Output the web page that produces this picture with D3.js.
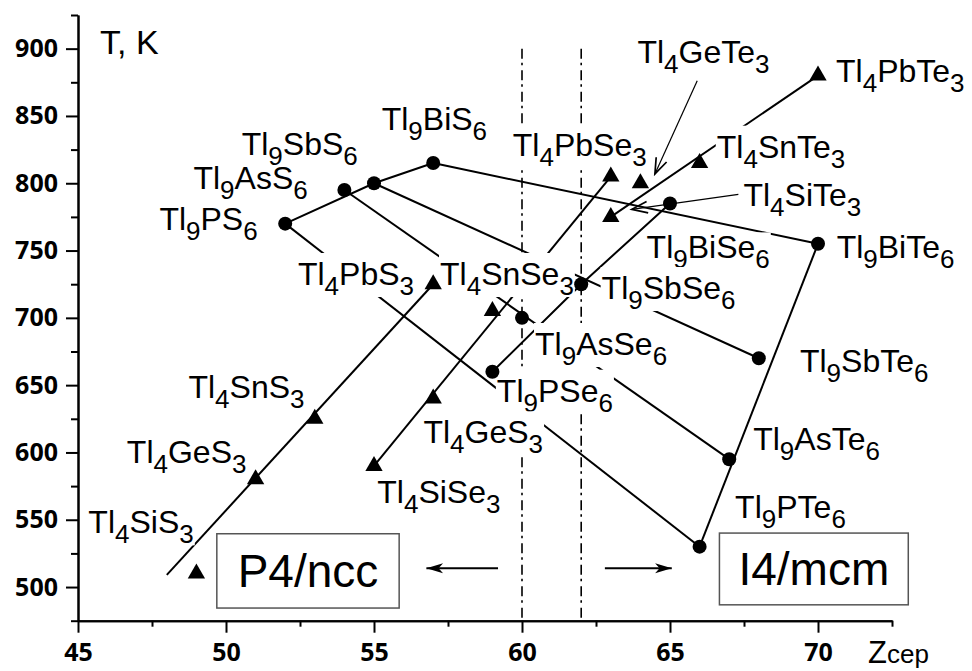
<!DOCTYPE html>
<html>
<head>
<meta charset="utf-8">
<script src="https://cdn.jsdelivr.net/npm/d3@7/dist/d3.min.js"></script>
<style>
    body { margin: 0; background: #fff; }
    svg { display: block; }
    .label, .title, .phase { font-family: "Liberation Sans", Arial, sans-serif; fill: #000; }
    .axis text { font-family: "Open Sans", sans-serif; font-weight: bold; font-size: 25px; fill: #000; }
    .axis path, .axis line { stroke: #000; stroke-width: 2; }
</style>
</head>
<body>
<div id="chart"></div>
<script>
// Tl9BX6 compounds (circles)
const tl9Names = ['Tl9PS6', 'Tl9AsS6', 'Tl9SbS6', 'Tl9BiS6', 'Tl9PSe6', 'Tl9AsSe6', 'Tl9SbSe6', 'Tl9BiSe6', 'Tl9PTe6', 'Tl9AsTe6', 'Tl9SbTe6', 'Tl9BiTe6'];
const tl9Z = [52, 54, 55, 57, 59, 60, 62, 65, 66, 67, 68, 70];
const tl9T = [770, 795, 800, 815, 660, 700, 725, 785, 530, 595, 670, 755];

// Tl4AX3 compounds (triangles)
const tl4Names = ['Tl4SiS3', 'Tl4GeS3', 'Tl4SnS3', 'Tl4PbS3', 'Tl4SiSe3', 'Tl4GeSe3', 'Tl4SnSe3', 'Tl4PbSe3', 'Tl4SiTe3', 'Tl4GeTe3', 'Tl4SnTe3', 'Tl4PbTe3'];
const tl4Z = [49, 51, 53, 57, 55, 57, 59, 63, 63, 64, 66, 70];
const tl4T = [510, 580, 625, 725, 590, 640, 705, 805, 775, 800, 815, 880];

// Lines joining compounds (by name)
const tl9Lines = [
    ['Tl9PS6', 'Tl9SbS6', 'Tl9BiS6'],
    ['Tl9PSe6', 'Tl9SbSe6', 'Tl9BiSe6'],
    ['Tl9PTe6', 'Tl9BiTe6'],
    ['Tl9PS6', 'Tl9PTe6'],
    ['Tl9AsS6', 'Tl9AsTe6'],
    ['Tl9SbS6', 'Tl9SbTe6'],
    ['Tl9BiS6', 'Tl9BiTe6']
];
const tl4Lines = [
    ['Tl4PbSe3', 'Tl4SiSe3'],
    ['Tl4PbTe3', 'Tl4SiTe3']
];
// Sulfide trend line (Z, T)
const sulfideLine = [[48, 509], [57, 725]];

// Phase boundaries (Z)
const boundaryZ = [60, 62];
const boundaryTop = 900;

// Axis ticks
const xMajor = [45, 50, 55, 60, 65, 70];
const xMinor = [47.5, 52.5, 57.5, 62.5, 67.5, 72.5];
const yMajor = [500, 550, 600, 650, 700, 750, 800, 850, 900];
const yMinor = [475, 525, 575, 625, 675, 725, 775, 825, 875, 925];

// Compound labels: text (_n = subscript), Z, T of baseline start
const labels = [
    ['Tl_9PS_6', 47.75, 765.3],
    ['Tl_9AsS_6', 48.90, 795.5],
    ['Tl_9SbS_6', 50.53, 821.0],
    ['Tl_9BiS_6', 55.26, 839.6],
    ['Tl_4PbSe_3', 59.69, 820.2],
    ['Tl_4GeTe_3', 63.90, 889.1],
    ['Tl_4PbTe_3', 70.61, 875.4],
    ['Tl_4SnTe_3', 66.58, 819.0],
    ['Tl_4SiTe_3', 67.48, 783.1],
    ['Tl_9BiSe_6', 64.21, 744.2],
    ['Tl_9BiTe_6', 70.63, 744.2],
    ['Tl_9SbSe_6', 62.69, 714.0],
    ['Tl_4PbS_3', 52.43, 724.4],
    ['Tl_4SnSe_3', 57.23, 724.4],
    ['Tl_9AsSe_6', 60.44, 672.4],
    ['Tl_9SbTe_6', 69.39, 660.0],
    ['Tl_4SnS_3', 48.73, 640.2],
    ['Tl_9PSe_6', 59.15, 637.7],
    ['Tl_4GeS_3', 46.65, 591.9],
    ['Tl_4GeS_3', 56.67, 606.8],
    ['Tl_9AsTe_6', 67.81, 601.8],
    ['Tl_4SiSe_3', 55.11, 562.2],
    ['Tl_4SiS_3', 45.35, 539.9],
    ['Tl_9PTe_6', 67.20, 551.1]
];

// Thin pointer arrows from labels
const pointers = [
    [[65.92, 876.2], [64.49, 806.9]],
    [[67.31, 791.8], [63.71, 780.6]]
];

// Phase boxes and direction arrows
const phaseNames = ['P4/ncc', 'I4/mcm'];
const phaseBoxZ = [[49.69, 55.85], [66.67, 73.05]];
const phaseBoxT = [[484.4, 539.6], [486.8, 540.1]];
const phaseArrows = [[[59.19, 514], [56.77, 514]], [[62.8, 514], [65.06, 514]]];

const width = 972;
const height = 671;

const svg = d3.select('#chart')
    .append('svg')
    .attr('width', width)
    .attr('height', height);

const defs = svg.append('defs');
defs.append('marker')
    .attr('id', 'open-arrow')
    .attr('markerUnits', 'userSpaceOnUse')
    .attr('markerWidth', 20).attr('markerHeight', 20)
    .attr('viewBox', '-12 -6 14 12')
    .attr('refX', 0).attr('refY', 0)
    .attr('orient', 'auto')
    .append('path')
    .attr('d', 'M-11,-4 L0,0 L-11,4')
    .attr('fill', 'none')
    .attr('stroke', '#000')
    .attr('stroke-width', 1.2);
defs.append('marker')
    .attr('id', 'solid-arrow')
    .attr('markerUnits', 'userSpaceOnUse')
    .attr('markerWidth', 20).attr('markerHeight', 20)
    .attr('viewBox', '-16 -6 18 12')
    .attr('refX', 0).attr('refY', 0)
    .attr('orient', 'auto')
    .append('path')
    .attr('d', 'M0,0 L-15,-4.5 L-11,0 L-15,4.5 Z')
    .attr('fill', '#000');

// Scales
const x = d3.scaleLinear().domain([45, 72.5]).range([78, 892]);
const y = d3.scaleLinear().domain([475, 925]).range([620.7, 15]);

// Axes
const xAxis = svg.append('g')
    .attr('class', 'axis')
    .attr('transform', `translate(0,${y(475)})`);
xAxis.call(d3.axisBottom(x).tickValues(xMajor).tickSize(12).tickSizeOuter(0).tickPadding(11));
xAxis.append('g')
    .call(d3.axisBottom(x).tickValues(xMinor).tickSize(6).tickSizeOuter(0).tickFormat(''));

const yAxis = svg.append('g')
    .attr('class', 'axis')
    .attr('transform', `translate(${x(45)},0)`);
yAxis.call(d3.axisLeft(y).tickValues(yMajor).tickSize(12).tickSizeOuter(0).tickPadding(8));
yAxis.append('g')
    .call(d3.axisLeft(y).tickValues(yMinor).tickSize(7).tickSizeOuter(0).tickFormat(''));

// Axis titles
svg.append('text')
    .attr('class', 'title')
    .attr('x', x(45) + 22)
    .attr('y', y(900) + 5)
    .attr('font-size', 34)
    .text('T, K');

const zTitle = svg.append('text')
    .attr('class', 'title')
    .attr('x', x(72.5) - 24)
    .attr('y', 663);
zTitle.append('tspan').attr('font-size', 31).text('Z');
zTitle.append('tspan').attr('font-size', 26).text('cep');

// Phase boundaries
const plot = svg.append('g');
plot.selectAll('.boundary')
    .data(boundaryZ)
    .join('line')
    .attr('class', 'boundary')
    .attr('x1', d => x(d)).attr('x2', d => x(d))
    .attr('y1', y(boundaryTop)).attr('y2', y(475))
    .attr('stroke', '#000')
    .attr('stroke-width', 1.6)
    .attr('stroke-dasharray', '10,4,2.5,5');

// Data lines
const tl9Pos = {};
tl9Names.forEach((n, i) => { tl9Pos[n] = [tl9Z[i], tl9T[i]]; });
const tl4Pos = {};
tl4Names.forEach((n, i) => { tl4Pos[n] = [tl4Z[i], tl4T[i]]; });

const line = d3.line().x(d => x(d[0])).y(d => y(d[1]));

const allLines = tl9Lines.map(l => l.map(n => tl9Pos[n]))
    .concat(tl4Lines.map(l => l.map(n => tl4Pos[n])))
    .concat([sulfideLine]);

plot.selectAll('.link')
    .data(allLines)
    .join('path')
    .attr('class', 'link')
    .attr('d', line)
    .attr('fill', 'none')
    .attr('stroke', '#000')
    .attr('stroke-width', 2);

// Labels with white background (breaks lines behind them)
const boxTop = { default: 32, 'Tl_9BiSe_6': 26 };
const labelG = svg.append('g');
labels.forEach(([txt, z, t]) => {
    const g = labelG.append('g');
    const text = g.append('text')
        .attr('class', 'label')
        .attr('x', x(z))
        .attr('y', y(t));
    let shift = 0;
    txt.split(/_(\d)/).forEach((part, i) => {
        if (!part) return;
        const sub = i % 2 === 1;
        const target = sub ? 10 : 0;
        text.append('tspan')
            .attr('font-size', sub ? 26 : 32)
            .attr('dy', target - shift)
            .text(part);
        shift = target;
    });
    const bb = text.node().getBBox();
    const top = boxTop[txt] || boxTop.default;
    g.insert('rect', 'text')
        .attr('x', bb.x - 1)
        .attr('y', y(t) - top)
        .attr('width', bb.width + 2)
        .attr('height', top + 12)
        .attr('fill', '#fff');
});

// Pointer arrows
svg.selectAll('.pointer')
    .data(pointers)
    .join('path')
    .attr('class', 'pointer')
    .attr('d', line)
    .attr('stroke', '#000')
    .attr('stroke-width', 1.2)
    .attr('marker-end', 'url(#open-arrow)');

// Phase boxes
phaseNames.forEach((name, i) => {
    const [z0, z1] = phaseBoxZ[i];
    const [t0, t1] = phaseBoxT[i];
    svg.append('rect')
        .attr('x', x(z0)).attr('y', y(t1))
        .attr('width', x(z1) - x(z0))
        .attr('height', y(t0) - y(t1))
        .attr('fill', '#fff')
        .attr('stroke', '#555')
        .attr('stroke-width', 1.5);
    svg.append('text')
        .attr('class', 'phase')
        .attr('x', (x(z0) + x(z1)) / 2)
        .attr('y', (y(t0) + y(t1)) / 2 + 16)
        .attr('text-anchor', 'middle')
        .attr('font-size', 46)
        .text(name);
});

svg.selectAll('.phase-arrow')
    .data(phaseArrows)
    .join('path')
    .attr('class', 'phase-arrow')
    .attr('d', line)
    .attr('stroke', '#000')
    .attr('stroke-width', 2)
    .attr('marker-end', 'url(#solid-arrow)');

// Markers
svg.append('g')
    .selectAll('circle')
    .data(tl9Names)
    .join('circle')
    .attr('cx', (d, i) => x(tl9Z[i]))
    .attr('cy', (d, i) => y(tl9T[i]))
    .attr('r', 7)
    .attr('fill', '#000');

svg.append('g')
    .selectAll('path')
    .data(tl4Names)
    .join('path')
    .attr('d', d3.symbol(d3.symbolTriangle, 130))
    .attr('transform', (d, i) => `translate(${x(tl4Z[i])},${y(tl4T[i])})`)
    .attr('fill', '#000');
</script>
</body>
</html>
